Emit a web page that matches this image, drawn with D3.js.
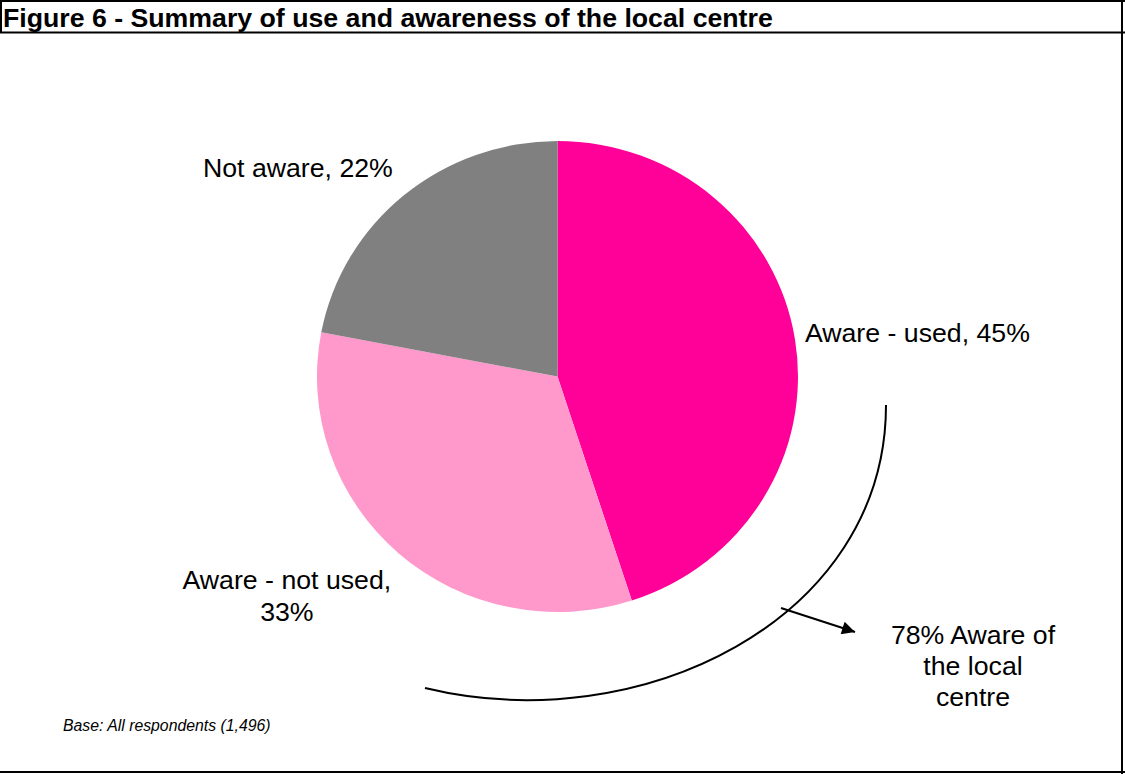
<!DOCTYPE html>
<html>
<head>
<meta charset="utf-8">
<script src="https://cdn.jsdelivr.net/npm/d3@7"></script>
<style>
  html, body { margin: 0; padding: 0; background: #fff; }
  svg { display: block; }
  text { font-family: "Liberation Sans", Arial, sans-serif; }
</style>
</head>
<body>
<svg id="chart" width="1125" height="774"></svg>
<script>
// Survey results: use and awareness of the local centre
const title = "Figure 6 - Summary of use and awareness of the local centre";
const categories = ["Aware - used", "Aware - not used", "Not aware"];
const shares = [45, 33, 22];
const sliceColors = ["#FF0099", "#FF99CC", "#808080"];
const awareTotal = 78;
const baseNote = "Base: All respondents (1,496)";

const svg = d3.select("#chart");
const W = 1125, H = 774;

// Frame and title bar
svg.append("rect").attr("x", 0).attr("y", 0).attr("width", W).attr("height", H).attr("fill", "#fff");
svg.append("line").attr("x1", 0).attr("x2", W).attr("y1", 1).attr("y2", 1).attr("stroke", "#000").attr("stroke-width", 2);
svg.append("line").attr("x1", 0).attr("x2", W).attr("y1", 32.5).attr("y2", 32.5).attr("stroke", "#000").attr("stroke-width", 2);
svg.append("line").attr("x1", 1).attr("x2", 1).attr("y1", 0).attr("y2", 33).attr("stroke", "#000").attr("stroke-width", 2);
svg.append("line").attr("x1", 1122).attr("x2", 1122).attr("y1", 0).attr("y2", H).attr("stroke", "#000").attr("stroke-width", 2);
svg.append("line").attr("x1", 0).attr("x2", W).attr("y1", 772).attr("y2", 772).attr("stroke", "#000").attr("stroke-width", 2);

svg.append("text")
  .attr("x", 3).attr("y", 27)
  .attr("font-size", 26.7).attr("font-weight", "bold")
  .text(title);

// Pie (drawn slightly flattened vertically)
const cx = 557.5, cy = 376.5, r = 240.5, yScale = 235.5 / 240.5;
const data = categories.map((c, i) => ({ category: c, value: shares[i], color: sliceColors[i] }));
const pie = d3.pie().value(d => d.value).sort(null).startAngle(0).endAngle(2 * Math.PI);
const arc = d3.arc().innerRadius(0).outerRadius(r);
const arcs = pie(data);

const g = svg.append("g").attr("transform", `translate(${cx},${cy})`);
g.append("g").attr("transform", `scale(1,${yScale})`)
  .selectAll("path.slice").data(arcs).enter().append("path")
  .attr("class", "slice")
  .attr("d", arc)
  .attr("fill", d => d.data.color);

// Slice labels placed just outside the pie, around each slice's mid-angle
const labelArc = d3.arc().innerRadius(r + 10).outerRadius(r + 10);
const labelLayout = [
  { anchor: "start", dx: 0, dy: 4, lines: d => [`${d.category}, ${d.value}%`] },
  { anchor: "middle", dx: -105, dy: 29, lines: d => [`${d.category},`, `${d.value}%`] },
  { anchor: "end", dx: -5, dy: -11, lines: d => [`${d.category}, ${d.value}%`] }
];
arcs.forEach((a, i) => {
  const [px, py0] = labelArc.centroid(a);
  const py = py0 * yScale;
  const L = labelLayout[i];
  const t = g.append("text")
    .attr("x", px + L.dx).attr("y", py + L.dy)
    .attr("text-anchor", L.anchor)
    .attr("font-size", 26.7)
    .attr("fill", "#000");
  L.lines(a.data).forEach((line, k) => {
    t.append("tspan").attr("x", px + L.dx).attr("dy", k === 0 ? 0 : 32).text(line);
  });
});

// Bracket curve spanning the "aware" slices, with an arrow to its note
const bracket = d3.path();
bracket.moveTo(886, 405);
bracket.bezierCurveTo(886, 620, 640, 740, 425, 688);
svg.append("path").attr("d", bracket.toString())
  .attr("fill", "none").attr("stroke", "#000").attr("stroke-width", 2);

svg.append("defs").append("marker")
  .attr("id", "arrowhead")
  .attr("viewBox", "0 0 10 10")
  .attr("refX", 10).attr("refY", 5)
  .attr("markerWidth", 16).attr("markerHeight", 13)
  .attr("markerUnits", "userSpaceOnUse")
  .attr("orient", "auto")
  .append("path").attr("d", "M0,0 L10,5 L0,10 Z").attr("fill", "#000");

svg.append("line")
  .attr("x1", 781).attr("y1", 608).attr("x2", 855).attr("y2", 632)
  .attr("stroke", "#000").attr("stroke-width", 2)
  .attr("marker-end", "url(#arrowhead)");

const note = svg.append("text")
  .attr("x", 973).attr("y", 644)
  .attr("text-anchor", "middle").attr("font-size", 26.7);
[`${awareTotal}% Aware of`, "the local", "centre"].forEach((line, k) => {
  note.append("tspan").attr("x", 973).attr("dy", k === 0 ? 0 : 31).text(line);
});

svg.append("text")
  .attr("x", 63).attr("y", 731)
  .attr("font-size", 15.8).attr("font-style", "italic")
  .text(baseNote);
</script>
</body>
</html>
